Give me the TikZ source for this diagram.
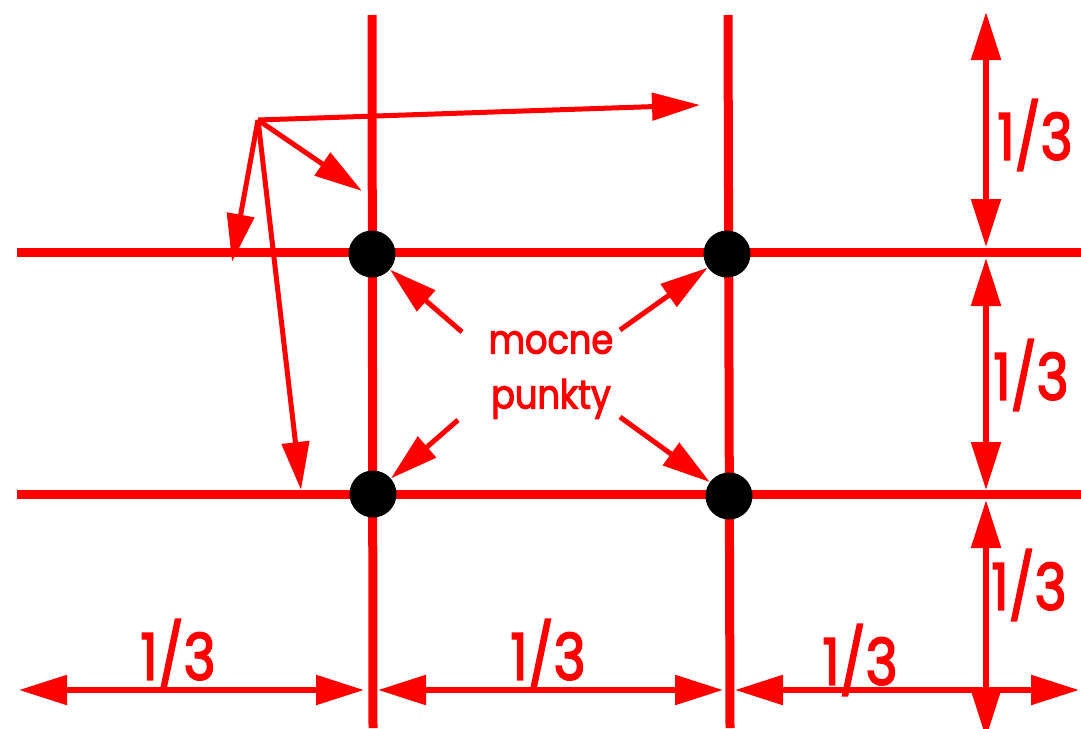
\documentclass[tikz,border=0pt]{standalone}
\usepackage{fontspec}
\setmainfont{Poppins}
\newfontfamily\labelfont[FakeBold=3]{Poppins}
\usepackage{xcolor}
\usetikzlibrary{arrows.meta, positioning}
\definecolor{gridred}{RGB}{255,0,0}

\begin{document}
\begin{tikzpicture}[
    x=1pt, y=-1pt,
    gridline/.style={gridred, line width=9pt},
    fanarrow/.style={-{Triangle[length=48pt, width=27pt]}, gridred, line width=5pt},
    dimarrow/.style={{Triangle[length=48pt, width=29pt]}-{Triangle[length=48pt, width=29pt]}, gridred, line width=5.5pt},
    dot/.style={circle, fill=black, minimum size=47pt, inner sep=0pt},
    caption/.style={text=gridred, font=\labelfont\fontsize{40}{55}\selectfont, align=center, xscale=0.88},
    third/.style={text=gridred, font=\labelfont\fontsize{64}{64}\selectfont, xscale=0.85}
]
\useasboundingbox (0,0) rectangle (1081,728);

% grid lines
\coordinate (v1t) at (372,15);
\coordinate (v1b) at (373,728);
\coordinate (v2t) at (728,15);
\coordinate (v2b) at (730,728);
\coordinate (h1l) at (17,252);
\coordinate (h1r) at (1081,252);
\coordinate (h2l) at (17,494);
\coordinate (h2r) at (1081,494);

\draw[gridline] (v1t) -- (v1b);
\draw[gridline] (v2t) -- (v2b);
\draw[gridline] (h1l) -- (h1r);
\draw[gridline] (h2l) -- (h2r);

% strong points
\node[dot] (p1) at (372,254) {};
\node[dot] (p2) at (727,254) {};
\node[dot] (p3) at (373,494) {};
\node[dot] (p4) at (729,496) {};

\node[caption] (mocne) at (551,375) {mocne\\punkty};

\coordinate (a1) at (462,332);
\coordinate (a2) at (620,330);
\coordinate (a3) at (458,420);
\coordinate (a4) at (620,417);
\draw[fanarrow] (a1) -- (p1);
\draw[fanarrow] (a2) -- (p2);
\draw[fanarrow] (a3) -- (p3);
\draw[fanarrow] (a4) -- (p4);

% fan of arrows
\coordinate (o) at (258,120);
\coordinate (f1) at (700,105);
\coordinate (f2) at (362,191);
\coordinate (f3) at (232,262);
\coordinate (f4) at (301,490);
\draw[fanarrow] (o) -- (f1);
\draw[fanarrow] (o) -- (f2);
\draw[fanarrow] (o) -- (f3);
\draw[fanarrow] (o) -- (f4);

% dimensions right
\coordinate (r0) at (986,12);
\coordinate (r1) at (986,247);
\coordinate (r2) at (986,258);
\coordinate (r3) at (986,490);
\coordinate (r4) at (986,500);
\coordinate (r5) at (986,738);
\draw[dimarrow] (r0) -- (r1);
\draw[dimarrow] (r2) -- (r3);
\draw[dimarrow] (r4) -- (r5);
\node[third] (t1) at (1035,135) {1/3};
\node[third] (t2) at (1031,375) {1/3};
\node[third] (t3) at (1029,585) {1/3};

% dimensions bottom
\coordinate (b0) at (19,690);
\coordinate (b1) at (364,690);
\coordinate (b2) at (378,690);
\coordinate (b3) at (723,690);
\coordinate (b4) at (735,690);
\coordinate (b5) at (1079,690);
\draw[dimarrow] (b0) -- (b1);
\draw[dimarrow] (b2) -- (b3);
\draw[dimarrow] (b4) -- (b5);
\node[third] (t4) at (178,655) {1/3};
\node[third] (t5) at (548,655) {1/3};
\node[third] (t6) at (860,660) {1/3};

\end{tikzpicture}
\end{document}
